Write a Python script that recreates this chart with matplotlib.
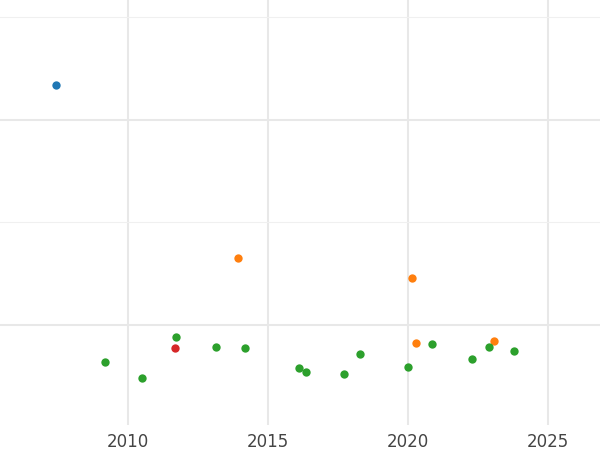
import matplotlib
matplotlib.use("Agg")
import matplotlib.pyplot as plt
from matplotlib.ticker import MultipleLocator

blue_x = [2007.43]; blue_y = [2.171]
orange_x = [2013.93, 2020.14, 2020.29, 2023.07]; orange_y = [1.327, 1.229, 0.912, 0.922]
red_x = [2011.68]; red_y = [0.888]
green_x = [2009.18, 2010.50, 2011.71, 2013.14, 2014.18, 2016.11, 2016.36, 2017.71,
           2018.29, 2020.0, 2020.86, 2022.29, 2022.89, 2023.79]
green_y = [0.820, 0.742, 0.941, 0.893, 0.888, 0.790, 0.771, 0.761,
           0.859, 0.795, 0.907, 0.834, 0.893, 0.873]

fig = plt.figure(figsize=(6, 4.5), dpi=100)
ax = fig.add_axes([0, 25/450, 1, 425/450])
for x, y, c in [(blue_x, blue_y, '#1f77b4'), (orange_x, orange_y, '#ff7f0e'),
                (red_x, red_y, '#d62728'), (green_x, green_y, '#2ca02c')]:
    ax.scatter(x, y, s=36, color=c, zorder=3, linewidths=0)
ax.set_xlim(2005.43, 2026.86)
ax.set_ylim(0.512, 2.585)
ax.xaxis.set_major_locator(MultipleLocator(5))
ax.yaxis.set_major_locator(MultipleLocator(1))
ax.yaxis.set_minor_locator(MultipleLocator(0.5))
ax.grid(which='major', color='#e8e8e8', linewidth=1.5)
ax.grid(which='minor', axis='y', color='#f0f0f0', linewidth=0.8)
for s in ax.spines.values():
    s.set_visible(False)
ax.tick_params(axis='both', which='both', length=0, labelsize=12, labelcolor='#444444')
ax.tick_params(axis='x', pad=6)
ax.tick_params(axis='y', labelleft=False)
fig.savefig('out.png')
